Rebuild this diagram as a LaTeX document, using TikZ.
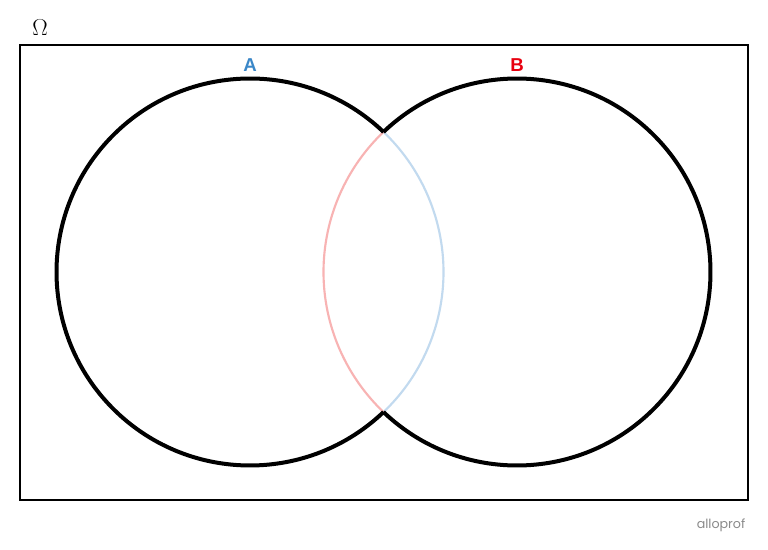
\documentclass[tikz,border=0pt]{standalone}
\usepackage{fontspec}
\newfontfamily\labelfont{Liberation Sans}
\newfontfamily\logofont{Poppins}
\definecolor{setblue}{HTML}{3A87C8}
\definecolor{setred}{HTML}{E8000F}
\definecolor{arcpink}{HTML}{F8B3B3}
\definecolor{arcblue}{HTML}{C2DAEF}
\definecolor{logogray}{HTML}{8A8A8A}
\begin{document}
\begin{tikzpicture}[x=0.75pt,y=0.75pt,
  outline/.style={line width=3pt,black},
  inner/.style={line width=1.6pt},
  setlabel/.style={font=\labelfont\bfseries\fontsize{14}{14}\selectfont,inner sep=0pt}]
\useasboundingbox (0,0) rectangle (768,550);
\fill[white] (0,0) rectangle (768,550);
\draw[line width=1.1pt] (20,50) rectangle (748,505);
\coordinate (cA) at (250,278);
\coordinate (cB) at (517,278);
% inner arcs
\draw[inner,arcblue] (cA) ++(-46.36:145.125pt) arc[start angle=-46.36,end angle=46.36,radius=145.125pt];
\draw[inner,arcpink] (cB) ++(133.64:145.125pt) arc[start angle=133.64,end angle=226.36,radius=145.125pt];
% outer arcs
\draw[outline] (cA) ++(46.36:145.125pt) arc[start angle=46.36,end angle=313.64,radius=145.125pt];
\draw[outline] (cB) ++(-133.64:145.125pt) arc[start angle=-133.64,end angle=133.64,radius=145.125pt];
\node[setlabel,text=setblue] (lA) at (250,485) {A};
\node[setlabel,text=setred] (lB) at (517,485) {B};
\node[font=\fontsize{16}{16}\selectfont,inner sep=0pt] (om) at (40,522) {$\Omega$};
\node[font=\logofont\fontsize{9.5}{9.5}\selectfont,text=logogray,inner sep=0pt] (logo) at (721,25) {alloprof};
\end{tikzpicture}
\end{document}
